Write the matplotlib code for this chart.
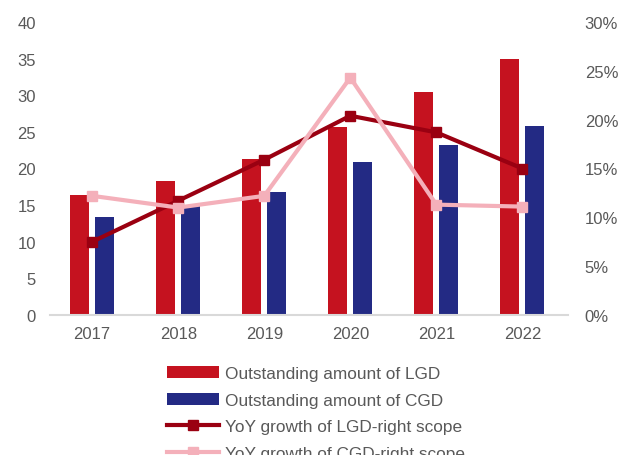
import numpy as np
import matplotlib
matplotlib.use('Agg')
import matplotlib.pyplot as plt
from matplotlib.ticker import FuncFormatter

years = ['2017', '2018', '2019', '2020', '2021', '2022']
lgd_amount = [16.4, 18.3, 21.3, 25.6, 30.4, 34.9]
cgd_amount = [13.4, 14.9, 16.8, 20.9, 23.2, 25.8]
lgd_growth = [7.5, 11.7, 15.9, 20.4, 18.7, 15.0]
cgd_growth = [12.2, 11.0, 12.2, 24.3, 11.3, 11.1]

plt.rcParams['font.family'] = ['Liberation Sans', 'DejaVu Sans']
grey = '#595959'

fig = plt.figure(figsize=(6.22, 4.56), dpi=100)
ax = fig.add_axes([50/622, 1-316/456, 518/622, 293/456])
ax2 = ax.twinx()

x = np.arange(len(years))
w = 0.22
ax.bar(x - 0.145, lgd_amount, w, color='#C5121F', label='Outstanding amount of LGD', zorder=2)
ax.bar(x + 0.145, cgd_amount, w, color='#232A84', label='Outstanding amount of CGD', zorder=2)

ax2.plot(x, lgd_growth, color='#9A0011', lw=3, marker='s', ms=6.5, label='YoY growth of LGD-right scope', zorder=3)
ax2.plot(x, cgd_growth, color='#F4B0BA', lw=3, marker='s', ms=6.5, label='YoY growth of CGD-right scope', zorder=3)

ax.set_xlim(-0.49, 5.53)
ax.set_ylim(0, 40)
ax.set_yticks(range(0, 41, 5))
ax2.set_ylim(0, 30)
ax2.set_yticks(range(0, 31, 5))
ax2.yaxis.set_major_formatter(FuncFormatter(lambda v, p: f'{int(v)}%'))
ax.set_xticks(x)
ax.set_xticklabels(years)

for a in (ax, ax2):
    for s in a.spines.values():
        s.set_visible(False)
    a.tick_params(length=0, labelsize=12, labelcolor=grey)
ax.spines['bottom'].set_visible(True)
ax.spines['bottom'].set_color('#D9D9D9')
ax.spines['bottom'].set_linewidth(1.5)
ax.tick_params(axis='y', pad=10)
ax.tick_params(axis='x', pad=8)
ax2.tick_params(axis='y', pad=12)

h1, l1 = ax.get_legend_handles_labels()
h2, l2 = ax2.get_legend_handles_labels()
fig.legend(h1 + h2, l1 + l2, loc='upper left', bbox_to_anchor=(160/622, 1-360/456),
           frameon=False, fontsize=12.4, labelcolor=grey, handlelength=3.0,
           handletextpad=0.4, labelspacing=0.68, borderaxespad=0)

fig.savefig('out.png', dpi=100)
